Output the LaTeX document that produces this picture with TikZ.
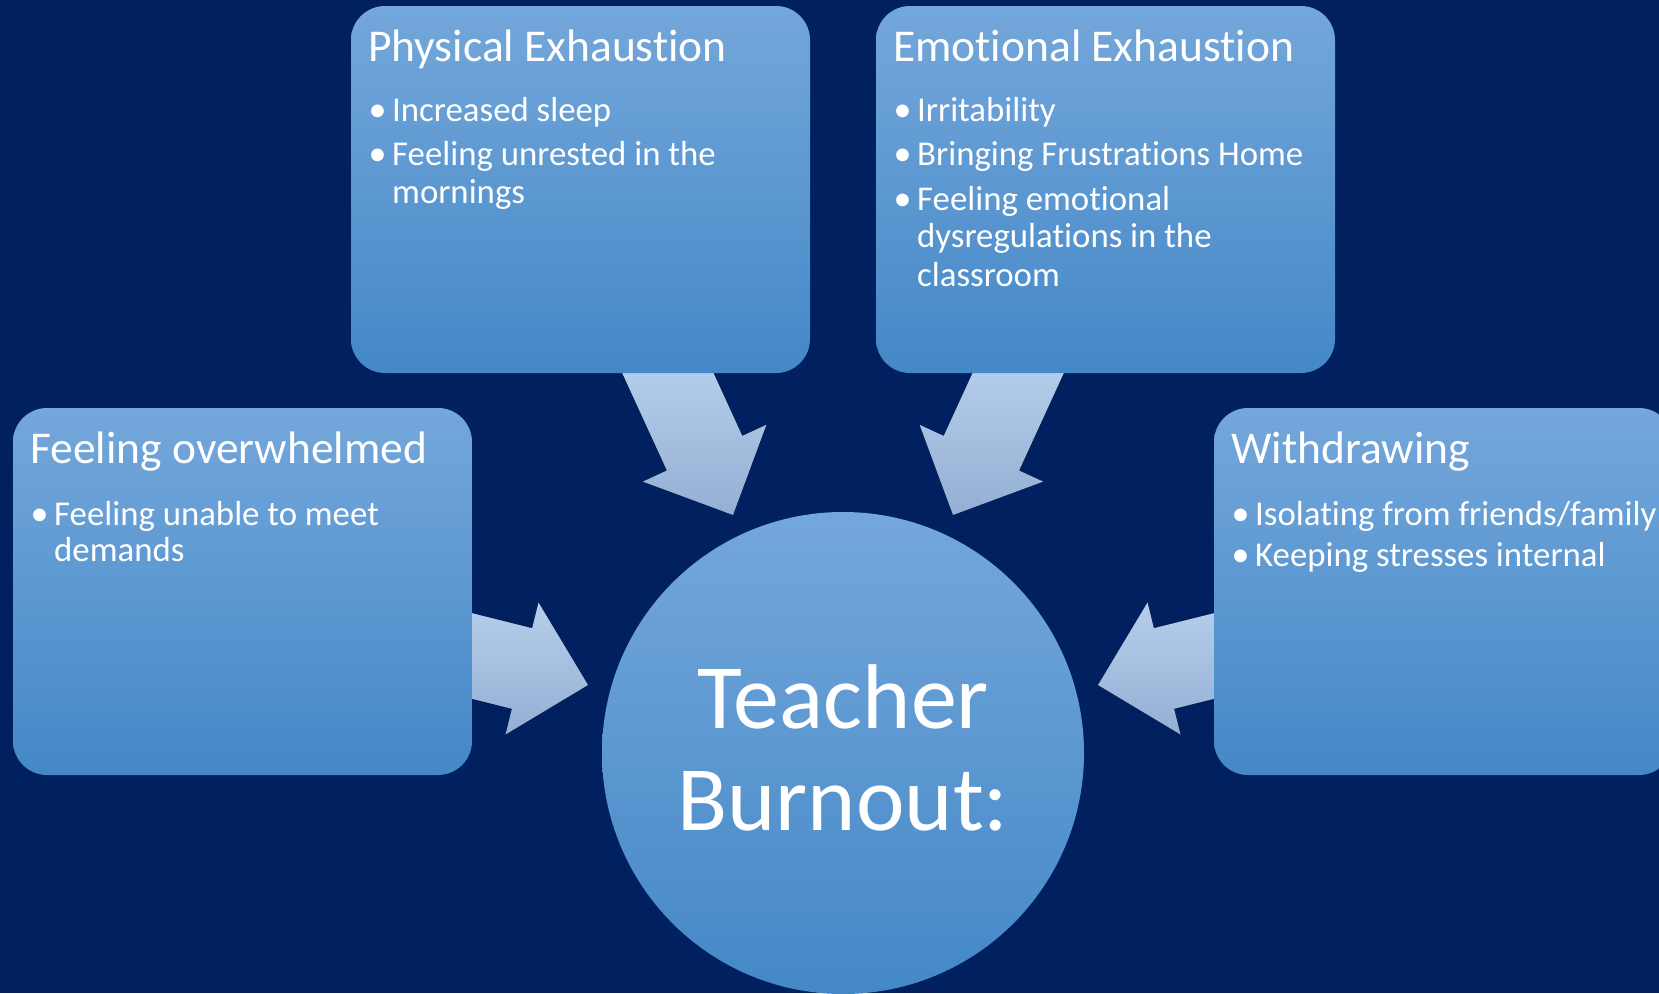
\documentclass[tikz,border=0pt]{standalone}
\usepackage{fontspec}
\setmainfont{Carlito}[Ligatures={NoCommon,NoRare,NoContextual}]
\definecolor{bgblue}{RGB}{0,32,96}
\definecolor{boxtop}{RGB}{116,167,219}
\definecolor{boxmid}{RGB}{86,156,220}
\definecolor{boxbot}{RGB}{68,136,199}
\definecolor{arrtop}{RGB}{183,206,236}
\definecolor{arrbot}{RGB}{148,175,212}
\begin{document}
\begin{tikzpicture}[x=1pt,y=-1pt,
  box/.style={rectangle, rounded corners=34pt, minimum width=459pt, minimum height=367pt,
    inner sep=0pt, draw=none, top color=boxtop, middle color=boxmid, bottom color=boxbot},
  hub/.style={circle, minimum size=482pt, inner sep=0pt, draw=none,
    top color=boxtop, middle color=boxmid, bottom color=boxbot},
  ttl/.style={anchor=base west, inner sep=0pt, text=white, font=\fontsize{45.5}{52}\selectfont},
  itm/.style={anchor=base west, inner sep=0pt, text=white, font=\fontsize{34.8}{40}\selectfont},
  bul/.style={anchor=base, inner sep=0pt, text=white, font=\fontsize{36}{40}\selectfont},
  big/.style={anchor=base, inner sep=0pt, text=white, font=\fontsize{92}{102}\selectfont},
  blockarrow/.style={draw=none, top color=arrtop, bottom color=arrbot}]

\useasboundingbox (0,0) rectangle (1659,993);
\clip (0,0) rectangle (1659,993);
\fill[bgblue] (0,0) rectangle (1659,993);

% block arrows pointing at the hub (drawn first, shafts tucked under the boxes)
\fill[blockarrow] (616.2,360) -- (666.9,470.5) -- (642.8,481.6) -- (733,515)
  -- (766.4,424.8) -- (742.3,435.9) -- (707.5,360) -- cycle;
\fill[blockarrow] (1069.8,360) -- (1019.1,470.5) -- (1043.2,481.6) -- (953,515)
  -- (919.6,424.8) -- (943.7,435.9) -- (978.5,360) -- cycle;
\fill[blockarrow] (460,610.1) -- (532.1,628.2) -- (538.5,602.5) -- (588,685)
  -- (505.5,734.5) -- (511.9,708.8) -- (460,695.8) -- cycle;
\fill[blockarrow] (1226,610.1) -- (1153.9,628.2) -- (1147.5,602.5) -- (1098,685)
  -- (1180.5,734.5) -- (1174.1,708.8) -- (1226,695.8) -- cycle;

% the four symptom boxes and the hub
\node[box] (pe) at (580.5,189.5) {};
\node[box] (ee) at (1105.5,189.5) {};
\node[box] (fo) at (242.5,591.5) {};
\node[box] (wd) at (1443.5,591.5) {};
\node[hub] (tb) at (843,753) {};

% Physical Exhaustion
\node[ttl] (pe-t) at (351+17,61) {Physical Exhaustion};
\node[bul] (pe-1b) at (351+26.5,121.7) {•};
\node[itm] (pe-1) at (351+41,121.7) {Increased sleep};
\node[bul] (pe-2b) at (351+26.5,165) {•};
\node[itm] (pe-2) at (351+41,165) {Feeling unrested in the};
\node[itm] (pe-2c) at (351+41,203.3) {mornings};

% Emotional Exhaustion
\node[ttl] (ee-t) at (876+17,61) {Emotional Exhaustion};
\node[bul] (ee-1b) at (876+26.5,121.7) {•};
\node[itm] (ee-1) at (876+41,121.7) {Irritability};
\node[bul] (ee-2b) at (876+26.5,165) {•};
\node[itm] (ee-2) at (876+41,165) {Bringing Frustrations Home};
\node[bul] (ee-3b) at (876+26.5,210) {•};
\node[itm] (ee-3) at (876+41,210) {Feeling emotional};
\node[itm] (ee-3c) at (876+41,247.5) {dysregulations in the};
\node[itm] (ee-3d) at (876+41,286.5) {classroom};

% Feeling overwhelmed
\node[ttl] (fo-t) at (13+17,463.3) {Feeling overwhelmed};
\node[bul] (fo-1b) at (13+26.5,525) {•};
\node[itm] (fo-1) at (13+41,525) {Feeling unable to meet};
\node[itm] (fo-1c) at (13+41,561.7) {demands};

% Withdrawing
\node[ttl] (wd-t) at (1214+17,463.3) {Withdrawing};
\node[bul] (wd-1b) at (1214+26.5,525) {•};
\node[itm] (wd-1) at (1214+41,525) {Isolating from friends/family};
\node[bul] (wd-2b) at (1214+26.5,566.7) {•};
\node[itm] (wd-2) at (1214+41,566.7) {Keeping stresses internal};

% hub label
\node[big] (tb-1) at (843,728) {Teacher};
\node[big] (tb-2) at (843,830) {Burnout:};
\end{tikzpicture}
\end{document}
